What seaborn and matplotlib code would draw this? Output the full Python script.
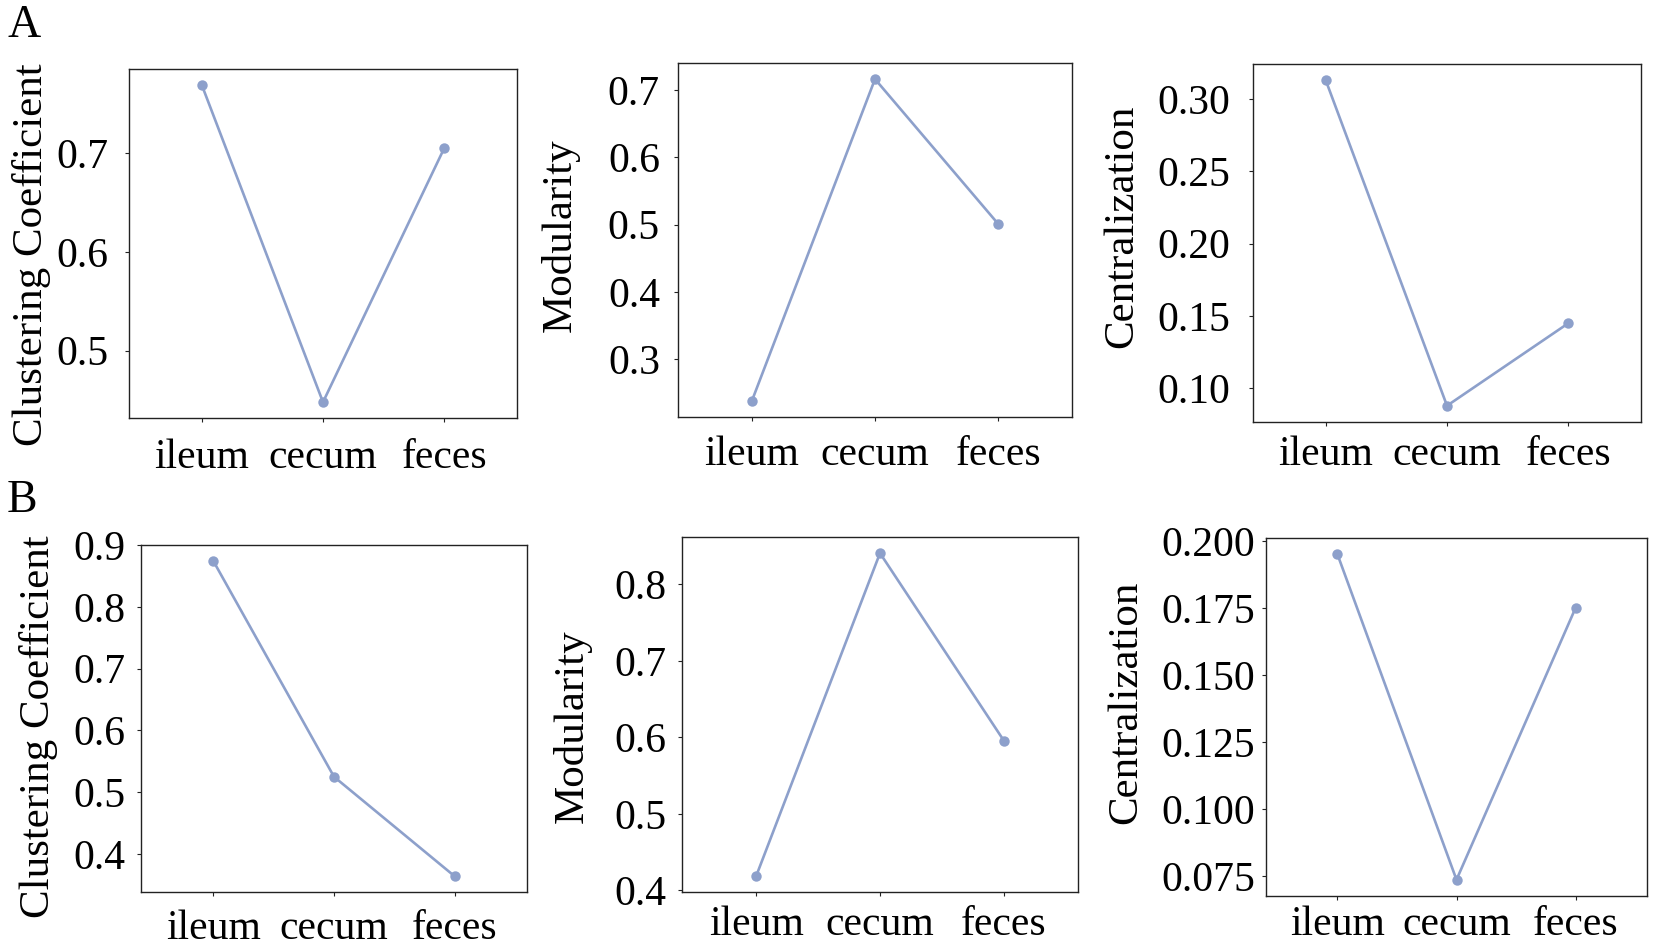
import numpy as np
import pandas as pd
import seaborn as sns
import matplotlib.pyplot as plt
from matplotlib.ticker import FormatStrFormatter

# Values
sites = ["ileum", "cecum", "feces"]

a_clustering = [0.769, 0.448, 0.705]
a_modularity = [0.238, 0.716, 0.501]
a_centralization = [0.313, 0.088, 0.145]

b_clustering = [0.874, 0.525, 0.364]
b_modularity = [0.419, 0.841, 0.596]
b_centralization = [0.195, 0.0736, 0.175]

a_clustering_ticks = [0.5, 0.6, 0.7]
a_modularity_ticks = [0.3, 0.4, 0.5, 0.6, 0.7]
a_centralization_ticks = [0.10, 0.15, 0.20, 0.25, 0.30]
b_clustering_ticks = [0.4, 0.5, 0.6, 0.7, 0.8, 0.9]
b_modularity_ticks = [0.4, 0.5, 0.6, 0.7, 0.8]
b_centralization_ticks = [0.075, 0.100, 0.125, 0.150, 0.175, 0.200]

line_color = "#8DA0CB"

sns.set_theme(style="white")
plt.rcParams["font.family"] = ["Liberation Serif", "DejaVu Serif"]
plt.rcParams["text.color"] = "black"
plt.rcParams["axes.labelcolor"] = "black"

W, H = 1654, 947
fig = plt.figure(figsize=(W / 100, H / 100), dpi=100)

# (left, right, top, bottom) in pixels, label x/y in axes coords, tick pads
panels = [
    ((129, 517, 69, 418), a_clustering, "Clustering Coefficient", a_clustering_ticks, "%.1f", (-0.201, 0.468), 11.5, 11.5),
    ((678, 1072, 63, 417), a_modularity, "Modularity", a_modularity_ticks, "%.1f", (-0.250, 0.514), 9.8, 10.0),
    ((1253, 1641, 64, 422), a_centralization, "Centralization", a_centralization_ticks, "%.2f", (-0.287, 0.547), 13.0, 6.7),
    ((141, 527, 545, 892), b_clustering, "Clustering Coefficient", b_clustering_ticks, "%.1f", (-0.216, 0.475), 8.0, 9.4),
    ((682, 1078, 537, 892), b_modularity, "Modularity", b_modularity_ticks, "%.1f", (-0.227, 0.467), 8.3, 6.7),
    ((1266, 1647, 538, 896), b_centralization, "Centralization", b_centralization_ticks, "%.3f", (-0.318, 0.542), 4.7, 3.6),
]

for (l, r, t, b), values, label, ticks, fmt, lab_xy, ypad, xpad in panels:
    ax = fig.add_axes([l / W, 1 - b / H, (r - l) / W, (b - t) / H])
    df = pd.DataFrame({"site": sites, "value": values})
    sns.lineplot(data=df, x="site", y="value", ax=ax, color=line_color,
                 marker="o", markersize=7.5, markeredgewidth=0, linewidth=1.9)
    ax.set_xlim(-0.6, 2.6)
    ax.set_yticks(ticks)
    ax.yaxis.set_major_formatter(FormatStrFormatter(fmt))
    ax.set_xlabel("")
    ax.set_ylabel(label, fontsize=31, color="black")
    ax.yaxis.set_label_coords(*lab_xy)
    ax.tick_params(axis="y", labelsize=30, length=3.2, width=0.8, pad=ypad,
                   left=True, colors="#222222", labelcolor="black")
    ax.tick_params(axis="x", labelsize=30, length=3.2, width=0.8, pad=xpad,
                   bottom=True, colors="#222222", labelcolor="black")
    for sp in ax.spines.values():
        sp.set_color("#222222")
        sp.set_linewidth(1.0)

fig.text(8 / W, 1 - 37 / H, "A", fontsize=33, ha="left", va="baseline")
fig.text(7 / W, 1 - 512 / H, "B", fontsize=33, ha="left", va="baseline")

fig.savefig("out.png", dpi=100)
